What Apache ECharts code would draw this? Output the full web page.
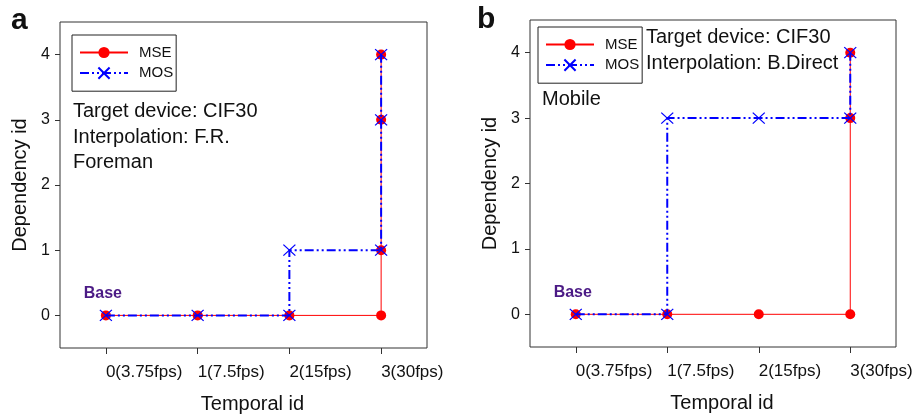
<!DOCTYPE html>
<html>
<head>
<meta charset="utf-8">
<script src="https://cdn.jsdelivr.net/npm/echarts@6/dist/echarts.min.js"></script>
<style>
  html, body { margin: 0; padding: 0; background: #fff; }
  #main { width: 915px; height: 414px; }
</style>
</head>
<body>
<div id="main"></div>
<script>
// axis categories
var temporalLabels = ['0(3.75fps)', '1(7.5fps)', '2(15fps)', '3(30fps)'];
var dependencyLabels = ['0', '1', '2', '3', '4'];

// panel a (Foreman, F.R. interpolation) - step paths as category indices
var mseA_t = [0, 1, 2, 3, 3, 3, 3];
var mseA_d = [0, 0, 0, 0, 1, 3, 4];
var mosA_t = [0, 1, 2, 2, 3, 3, 3];
var mosA_d = [0, 0, 0, 1, 1, 3, 4];

// panel b (Mobile, B.Direct interpolation)
var mseB_t = [0, 1, 2, 3, 3, 3];
var mseB_d = [0, 0, 0, 0, 3, 4];
var mosB_t = [0, 1, 1, 2, 3, 3];
var mosB_d = [0, 0, 3, 3, 3, 4];

var FONT = '"Liberation Sans", Arial, sans-serif';
var X_SYMBOL = 'path://M0,0L10,10M10,0L0,10';

function pairs(t, d) {
  return t.map(function (v, i) { return [v, d[i]]; });
}

function xAxisFor(gi) {
  return {
    type: 'category', gridIndex: gi, data: temporalLabels, boundaryGap: true,
    axisLine: { show: false },
    axisTick: { show: true, alignWithLabel: true, length: 6, lineStyle: { color: '#333' } },
    axisLabel: { interval: 0, fontFamily: FONT, fontSize: 17, color: '#111', margin: 16, align: 'left' },
    name: 'Temporal id', nameLocation: 'middle', nameGap: 46,
    nameTextStyle: { fontFamily: FONT, fontSize: 20, color: '#111', padding: [0, 0, 0, 18] },
    splitLine: { show: false }
  };
}

function yAxisFor(gi) {
  return {
    type: 'category', gridIndex: gi, data: dependencyLabels, boundaryGap: true,
    axisLine: { show: false },
    axisTick: { show: true, alignWithLabel: true, length: 5, lineStyle: { color: '#333' } },
    axisLabel: { interval: 0, fontFamily: FONT, fontSize: 16, color: '#111', margin: 10 },
    name: 'Dependency id', nameLocation: 'middle', nameGap: 30,
    nameTextStyle: { fontFamily: FONT, fontSize: 20, color: '#111' },
    splitLine: { show: false }
  };
}

function mseSeries(gi, t, d) {
  return {
    name: 'MSE', type: 'line', xAxisIndex: gi, yAxisIndex: gi,
    data: pairs(t, d),
    symbol: 'circle', symbolSize: 10, showAllSymbol: true,
    lineStyle: { color: '#ff0000', width: 1 },
    itemStyle: { color: '#ff0000' },
    label: {
      show: true, position: 'top', distance: 9, offset: [-3, 0],
      formatter: function (p) { return p.dataIndex === 0 ? 'Base' : ''; },
      fontFamily: FONT, fontSize: 16, fontWeight: 'bold', color: '#4b1a85'
    },
    animation: false, z: 2
  };
}

function mosSeries(gi, t, d) {
  return {
    name: 'MOS', type: 'line', xAxisIndex: gi, yAxisIndex: gi,
    data: pairs(t, d),
    symbol: X_SYMBOL, symbolSize: [12, 11], showAllSymbol: true,
    lineStyle: { color: '#0000ff', width: 2, type: [9, 3, 2, 3, 2, 3] },
    itemStyle: { color: 'none', borderColor: '#0000ff', borderWidth: 1.2 },
    animation: false, z: 3
  };
}

function legendFor(gi, left, top) {
  return {
    orient: 'vertical', left: left, top: top,
    data: ['MSE', 'MOS'],
    itemWidth: 48, itemHeight: 14, itemGap: 5,
    padding: [10, 3, 10, 7],
    borderColor: '#222', borderWidth: 1, borderRadius: 0,
    backgroundColor: '#fff',
    textStyle: { fontFamily: FONT, fontSize: 15, color: '#111', padding: [0, 0, 0, 6] },
    selectedMode: false
  };
}

function txt(str, x, y, size, weight, color) {
  return {
    type: 'text', left: x, top: y - size / 2 - 1, z: 10,
    style: {
      text: str, fill: color || '#111',
      font: (weight || 'normal') + ' ' + size + 'px ' + FONT
    }
  };
}

var chart = echarts.init(document.getElementById('main'), null, { renderer: 'canvas' });

var option = {
  backgroundColor: '#fff',
  animation: false,
  grid: [
    { left: 60, top: 22, width: 367, height: 326, show: true, borderColor: '#333', borderWidth: 1, containLabel: false, outerBoundsMode: 'none' },
    { left: 530, top: 20, width: 366, height: 327, show: true, borderColor: '#333', borderWidth: 1, containLabel: false, outerBoundsMode: 'none' }
  ],
  xAxis: [xAxisFor(0), xAxisFor(1)],
  yAxis: [yAxisFor(0), yAxisFor(1)],
  legend: [legendFor(0, 72, 35), legendFor(1, 538, 27)],
  series: [
    mseSeries(0, mseA_t, mseA_d),
    mosSeries(0, mosA_t, mosA_d),
    mseSeries(1, mseB_t, mseB_d),
    mosSeries(1, mosB_t, mosB_d)
  ],
  graphic: [
    txt('a', 11, 22, 30, 'bold'),
    txt('b', 477, 21, 30, 'bold'),
    txt('Target device: CIF30', 73, 112, 20),
    txt('Interpolation: F.R.', 73, 138, 20),
    txt('Foreman', 73, 163, 20),
    txt('Target device: CIF30', 646, 38, 20),
    txt('Interpolation: B.Direct', 646, 64, 20),
    txt('Mobile', 542, 100, 20)
  ]
};

chart.setOption(option);
</script>
</body>
</html>
